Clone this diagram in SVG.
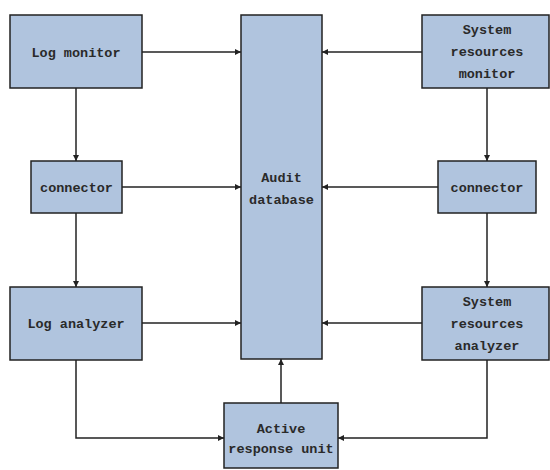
<svg xmlns="http://www.w3.org/2000/svg" width="550" height="470" viewBox="0 0 550 470">
<defs>
<marker id="ah" viewBox="0 0 10 10" refX="10" refY="5" markerWidth="6" markerHeight="6" markerUnits="userSpaceOnUse" orient="auto">
<path d="M0,0 L10,5 L0,10 z" fill="#222"/>
</marker>
<style>
.box{fill:#b0c4de;stroke:#222;stroke-width:1.5}
.t{font-family:"Liberation Mono",monospace;font-size:13.5px;font-weight:bold;fill:#2a2a2a;text-anchor:middle}
.c{fill:none;stroke:#222;stroke-width:1.5;marker-end:url(#ah)}
</style>
</defs>
<rect width="550" height="470" fill="#fff"/>
<g id="connectors">
<path class="c" d="M142,52 H241"/>
<path class="c" d="M122,187 H241"/>
<path class="c" d="M142,323 H241"/>
<path class="c" d="M422,52 H322"/>
<path class="c" d="M438,187 H322"/>
<path class="c" d="M422,323 H322"/>
<path class="c" d="M76,88 V161"/>
<path class="c" d="M76,213 V287"/>
<path class="c" d="M487,88 V161"/>
<path class="c" d="M487,213 V287"/>
<path class="c" d="M76,360 V438 H224"/>
<path class="c" d="M487,360 V438 H338"/>
<path class="c" d="M281,403 V359"/>
</g>
<g id="log-monitor"><rect class="box" x="10" y="15" width="132" height="73"/><text class="t" x="76" y="57">Log monitor</text></g>
<g id="connector-left"><rect class="box" x="31" y="161" width="91" height="52"/><text class="t" x="76.5" y="192">connector</text></g>
<g id="log-analyzer"><rect class="box" x="10" y="287" width="132" height="73"/><text class="t" x="76" y="328">Log analyzer</text></g>
<g id="audit-database"><rect class="box" x="241" y="15" width="81" height="344"/><text class="t" x="281.5" y="182">Audit</text><text class="t" x="281.5" y="204">database</text></g>
<g id="sys-res-monitor"><rect class="box" x="422" y="15" width="127" height="73"/><text class="t" x="487" y="34">System</text><text class="t" x="487" y="56">resources</text><text class="t" x="487" y="78">monitor</text></g>
<g id="connector-right"><rect class="box" x="438" y="161" width="98" height="52"/><text class="t" x="487" y="192">connector</text></g>
<g id="sys-res-analyzer"><rect class="box" x="422" y="287" width="127" height="73"/><text class="t" x="487" y="306">System</text><text class="t" x="487" y="328">resources</text><text class="t" x="487" y="350">analyzer</text></g>
<g id="active-response"><rect class="box" x="224" y="403" width="114" height="65"/><text class="t" x="281" y="433">Active</text><text class="t" x="281" y="453">response unit</text></g>
</svg>
